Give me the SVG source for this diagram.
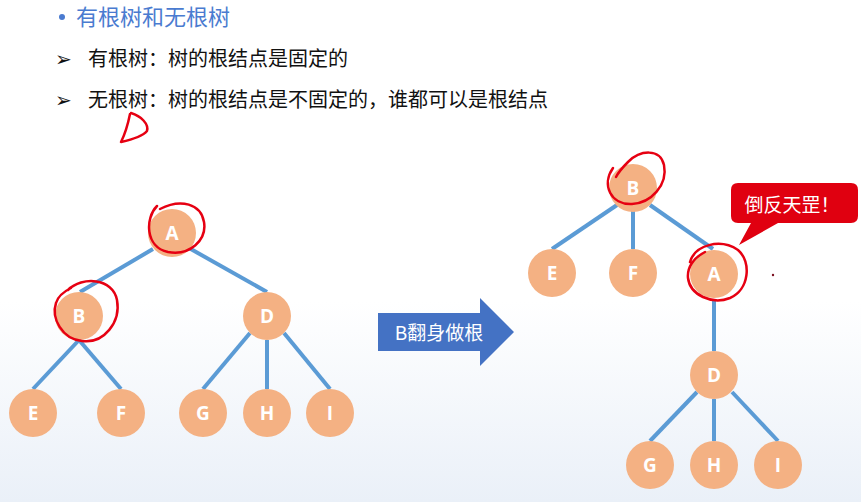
<svg xmlns="http://www.w3.org/2000/svg" width="861" height="502" viewBox="0 0 861 502">
<defs>
<linearGradient id="bg" x1="0" y1="0" x2="0" y2="1">
<stop offset="0" stop-color="#ffffff"/>
<stop offset="0.6" stop-color="#ffffff"/>
<stop offset="1" stop-color="#eaf0f8"/>
</linearGradient>
<style>
.edge{stroke:#5b9bd5;stroke-width:4;fill:none}
.node circle{fill:#f4b183}
.node text{font-family:"Open Sans","Noto Sans",sans-serif;font-weight:bold;font-size:19px;fill:#ffffff;text-anchor:middle}
.ink{fill:none;stroke:#e60012;stroke-width:2.5;stroke-linecap:round;stroke-linejoin:round}
.cjk{font-family:"Noto Sans CJK SC","Liberation Sans",sans-serif}
.mark{font-family:"DejaVu Sans",sans-serif;font-size:20px;fill:#111}
</style>
</defs>
<rect width="861" height="502" fill="url(#bg)"/>

<g id="header">
<circle cx="62" cy="17" r="3" fill="#4a7bd0"/>
<text x="76" y="25" class="cjk" font-size="22" fill="#4a7bd0">有根树和无根树</text>
<text x="55" y="66" class="mark">➢</text>
<text x="88" y="66" class="cjk" font-size="20" fill="#111">有根树：树的根结点是固定的</text>
<text x="55" y="107" class="mark">➢</text>
<text x="88" y="107" class="cjk" font-size="20" fill="#111">无根树：树的根结点是不固定的，谁都可以是根结点</text>
</g>

<g id="connectors">
<line class="edge" x1="153" y1="249" x2="80" y2="292"/>
<line class="edge" x1="189" y1="248" x2="267" y2="292"/>
<line class="edge" x1="79" y1="340" x2="33" y2="389"/>
<line class="edge" x1="79" y1="340" x2="121" y2="389"/>
<line class="edge" x1="250" y1="333" x2="203" y2="389"/>
<line class="edge" x1="267" y1="340" x2="267" y2="389"/>
<line class="edge" x1="284" y1="333" x2="330" y2="389"/>
<line class="edge" x1="617" y1="205" x2="552" y2="249"/>
<line class="edge" x1="633" y1="211" x2="633" y2="249"/>
<line class="edge" x1="650" y1="205" x2="713" y2="249"/>
<line class="edge" x1="714" y1="299" x2="714" y2="351"/>
<line class="edge" x1="697" y1="392" x2="650" y2="441"/>
<line class="edge" x1="714" y1="399" x2="714" y2="441"/>
<line class="edge" x1="732" y1="392" x2="778" y2="441"/>
</g>

<g id="L-A" class="node"><circle cx="172" cy="233" r="24"/><text x="172" y="240">A</text></g>
<g id="L-B" class="node"><circle cx="79" cy="316" r="24"/><text x="79" y="323">B</text></g>
<g id="L-D" class="node"><circle cx="267" cy="316" r="24"/><text x="267" y="323">D</text></g>
<g id="L-E" class="node"><circle cx="33" cy="413" r="24"/><text x="33" y="420">E</text></g>
<g id="L-F" class="node"><circle cx="121" cy="413" r="24"/><text x="121" y="420">F</text></g>
<g id="L-G" class="node"><circle cx="203" cy="413" r="24"/><text x="203" y="420">G</text></g>
<g id="L-H" class="node"><circle cx="267" cy="413" r="24"/><text x="267" y="420">H</text></g>
<g id="L-I" class="node"><circle cx="330" cy="413" r="24"/><text x="330" y="420">I</text></g>

<g id="R-B" class="node"><circle cx="633" cy="188" r="24"/><text x="633" y="195">B</text></g>
<g id="R-E" class="node"><circle cx="552" cy="273" r="24"/><text x="552" y="280">E</text></g>
<g id="R-F" class="node"><circle cx="633" cy="273" r="24"/><text x="633" y="280">F</text></g>
<g id="R-A" class="node"><circle cx="714" cy="274" r="24"/><text x="714" y="281">A</text></g>
<g id="R-D" class="node"><circle cx="714" cy="375" r="24"/><text x="714" y="382">D</text></g>
<g id="R-G" class="node"><circle cx="650" cy="465" r="24"/><text x="650" y="472">G</text></g>
<g id="R-H" class="node"><circle cx="714" cy="465" r="24"/><text x="714" y="472">H</text></g>
<g id="R-I" class="node"><circle cx="778" cy="465" r="24"/><text x="778" y="472">I</text></g>

<g id="arrow">
<path d="M378,313 H480 V298 L514,332 L480,366 V351 H378 Z" fill="#4472c4"/>
<text x="439" y="340" class="cjk" font-size="19" fill="#ffffff" text-anchor="middle">B翻身做根</text>
</g>

<g id="callout">
<path d="M738,183 H851 Q858,183 858,190 V216 Q858,223 851,223 H778 L739,245 L751,223 H738 Q731,223 731,216 V190 Q731,183 738,183 Z" fill="#e00010"/>
<text x="792" y="212" class="cjk" font-size="19" fill="#ffffff" text-anchor="middle">倒反天罡！</text>
</g>

<g id="annotations">
<path class="ink" d="M130,114 C128,124 125,134 121,142 C130,140 142,137 147,131 C149,124 141,116 131,113"/>
<path class="ink" d="M157,206 C145,218 145,247 168,252 C190,256 207,240 204,222 C201,204 181,198 160,209"/>
<path class="ink" d="M68,290 C82,276 113,278 117,300 C121,322 104,344 82,341 C62,339 51,318 56,303 C58,296 63,292 71,288"/>
<path class="ink" d="M613,168 C601,185 611,205 632,204 C651,203 668,185 664,165 C660,148 640,150 628,162 C622,168 618,173 616,177"/>
<path class="ink" d="M690,262 C695,245 720,238 738,250 C752,262 749,290 730,298 C712,305 690,295 688,278 C687,268 693,258 705,252"/>
<circle cx="773" cy="275" r="1.2" fill="#7a1020"/>
</g>
</svg>
